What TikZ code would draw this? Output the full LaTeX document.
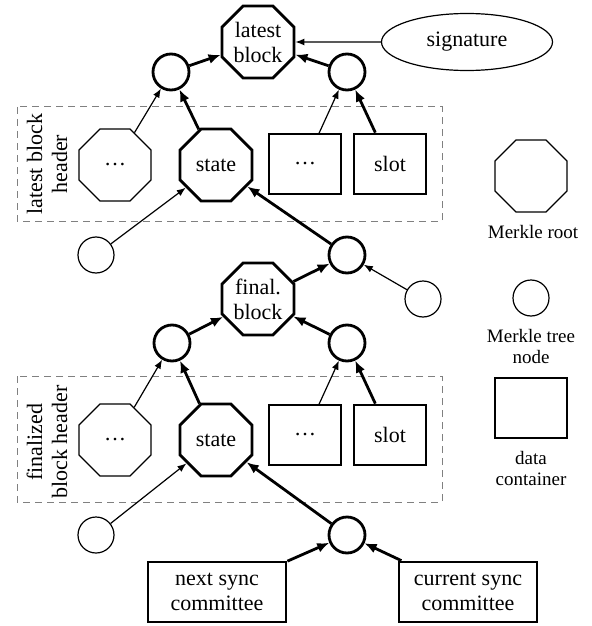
\documentclass[tikz,border=0pt]{standalone}
\usepackage{fontspec}
\setmainfont{Liberation Serif}
\usetikzlibrary{arrows.meta, shapes.geometric, positioning}

\begin{document}
\begin{tikzpicture}[x=0.5pt, y=-0.5pt,
      font = \fontsize{11}{12.5}\selectfont,
   root/.style = {regular polygon, regular polygon sides=8, draw,
                  minimum size=39pt, inner sep=0pt, align=center, line width=#1},
   root/.default = 0.6pt,
  hnode/.style = {circle, draw, minimum size=18pt, inner sep=0pt, line width=#1},
  hnode/.default = 0.6pt,
    box/.style = {rectangle, draw, minimum width=#1, minimum height=30pt,
                  align=center},
    box/.default = 36pt,
  group/.style = {draw=gray, dash pattern=on 3.5pt off 2.5pt, line width=0.5pt},
 legend/.style = {font=\fontsize{9.5}{10.5}\selectfont, align=center},
   bold/.style = {line width=1.4pt},
  heavy/.style = {-{Latex[length=6pt,width=5pt]}, line width=1.4pt},
  light/.style = {-{Latex[length=4.5pt,width=3.5pt]}, line width=0.6pt},
      ]
\useasboundingbox (0,0) rectangle (591,626);
% header boxes
\draw[group] (17,107) rectangle (442,221);
\draw[group] (17,376) rectangle (442,502);
\node (lbl1) [rotate=90, align=center] at (47,164) {latest block\\header};
\node (lbl2) [rotate=90, align=center] at (47,442) {finalized\\block header};
% latest block
\node (top) [root=1.4pt] at (258,42) {latest\\block};
\node (sig) [ellipse, draw, line width=0.6pt, minimum width=85.5pt, minimum height=28.5pt] at (467,42) {signature};
\node (l1) [hnode=1.4pt] at (171,72) {};
\node (r1) [hnode=1.4pt] at (347,72) {};
\node (etc1) [root] at (115,165) {\ldots};
\node (st1) [root=1.4pt] at (216,165) {state};
\node (dat1) [box, line width=0.6pt] at (305,164) {\ldots};
\node (slot1) [box, bold] at (390,164) {slot};
\node (c1) [hnode] at (96,255) {};
\node (c2) [hnode=1.4pt] at (347,255) {};
\node (c3) [hnode] at (423,299) {};
% finalized block
\node (fin) [root=1.4pt] at (258,299) {final.\\block};
\node (l2) [hnode=1.4pt] at (172,343) {};
\node (r2) [hnode=1.4pt] at (347,343) {};
\node (etc2) [root] at (115,440) {\ldots};
\node (st2) [root=1.4pt] at (216,440) {state};
\node (dat2) [box, line width=0.6pt] at (305,435) {\ldots};
\node (slot2) [box, bold] at (390,435) {slot};
\node (c4) [hnode] at (96,535) {};
\node (c5) [hnode=1.4pt] at (347,535) {};
\node (next) [box=69pt, bold] at (217,592) {next sync\\committee};
\node (cur) [box=69pt, bold] at (468,592) {current sync\\committee};
% legend
\node (kroot) [root] at (531,176) {};
\node (troot) [legend] at (533,232) {Merkle root};
\node (knode) [hnode] at (531,298) {};
\node (tnode) [legend] at (531,346) {Merkle tree\\node};
\node (kdata) [box, line width=0.6pt] at (531,408) {};
\node (tdata) [legend] at (531,468) {data\\container};
% links
\draw[heavy] (l1) -- (top);
\draw[heavy] (r1) -- (top);
\draw[light] (sig) -- (top);
\draw[light] (etc1) -- (l1);
\draw[heavy] (st1) -- (l1);
\draw[light] (dat1) -- (r1);
\draw[heavy] (slot1) -- (r1);
\draw[light] (c1) -- (st1);
\draw[heavy] (c2) -- (st1);
\draw[heavy] (fin) -- (c2);
\draw[light] (c3) -- (c2);
\draw[heavy] (l2) -- (fin);
\draw[heavy] (r2) -- (fin);
\draw[light] (etc2) -- (l2);
\draw[heavy] (st2) -- (l2);
\draw[light] (dat2) -- (r2);
\draw[heavy] (slot2) -- (r2);
\draw[light] (c4) -- (st2);
\draw[heavy] (c5) -- (st2);
\draw[heavy] (next) -- (c5);
\draw[heavy] (cur) -- (c5);
\end{tikzpicture}
\end{document}
